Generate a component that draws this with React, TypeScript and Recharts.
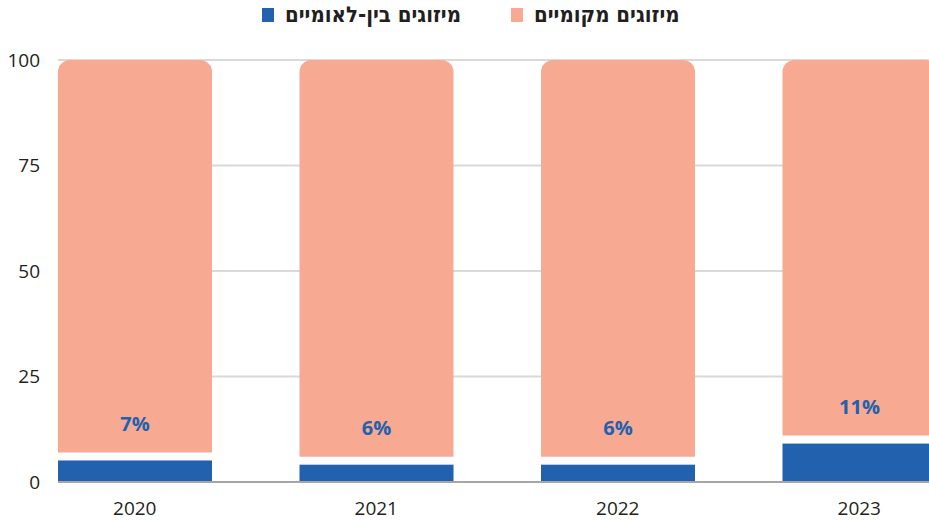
import React from 'react';
import { BarChart, Bar, XAxis, YAxis, CartesianGrid, LabelList } from 'recharts';

const years = ['2020', '2021', '2022', '2023'];
const international = [7, 6, 6, 11];
const local = [93, 94, 94, 89];
const yTicks = [0, 25, 50, 75, 100];

const BLUE = '#2161ae';
const SALMON = '#f7a992';

const data = years.map((year, i) => ({
  year,
  international: international[i],
  local: local[i],
}));

// blue segment leaves a white gap under the salmon one
const GapBar = (props: any) => {
  const { x, y, width, height, fill } = props;
  const gap = 8;
  if (height <= gap) return null;
  return <rect x={x} y={y + gap} width={width} height={height - gap} fill={fill} />;
};

const PercentLabel = (props: any) => {
  const { x, y, width, value } = props;
  return (
    <text
      x={x + width / 2}
      y={y - 29}
      textAnchor="middle"
      dominantBaseline="central"
      fill={BLUE}
      fontSize={20}
      fontWeight={700}
      fontFamily="'Open Sans', sans-serif"
    >
      {value}%
    </text>
  );
};

const legendItems = [
  { label: 'מיזוגים בין-לאומיים', color: BLUE },
  { label: 'מיזוגים מקומיים', color: SALMON },
];

export default function App() {
  return (
    <div
      style={{
        position: 'absolute',
        left: 0,
        top: 0,
        width: 929,
        height: 522,
        overflow: 'hidden',
        background: '#fff',
      }}
    >
      <div
        style={{
          position: 'absolute',
          top: 2,
          left: 262,
          display: 'flex',
          alignItems: 'center',
          gap: 50,
          fontFamily: "'Liberation Sans Narrow', 'DejaVu Sans Condensed', sans-serif",
          fontWeight: 700,
          fontSize: 22,
          color: '#231f20',
          zIndex: 2,
        }}
      >
        {legendItems.map((item) => (
          <div key={item.label} style={{ display: 'flex', alignItems: 'center', gap: 11 }}>
            <span style={{ width: 12, height: 14, background: item.color, display: 'inline-block' }} />
            <span dir="rtl">{item.label}</span>
          </div>
        ))}
      </div>
      <BarChart
        width={980}
        height={522}
        data={data}
        margin={{ top: 60, right: 0, bottom: 0, left: 0 }}
        barCategoryGap={44}
      >
        <CartesianGrid vertical={false} stroke="#d9d9d9" strokeWidth={2} />
        <XAxis
          dataKey="year"
          height={40}
          padding={{ left: -44, right: 0 }}
          tickLine={false}
          tickSize={0}
          tickMargin={20}
          axisLine={{ stroke: '#a6a6a6', strokeWidth: 2 }}
          tick={{ fill: '#231f20', fontSize: 19, fontFamily: "'Open Sans', sans-serif" }}
        />
        <YAxis
          width={58}
          domain={[0, 100]}
          ticks={yTicks}
          axisLine={false}
          tickLine={false}
          tickSize={0}
          tickMargin={18}
          tick={{ fill: '#231f20', fontSize: 19, fontFamily: "'Open Sans', sans-serif" }}
        />
        <Bar
          dataKey="international"
          stackId="a"
          fill={BLUE}
          shape={GapBar}
          isAnimationActive={false}
        >
          <LabelList dataKey="international" content={PercentLabel} />
        </Bar>
        <Bar
          dataKey="local"
          stackId="a"
          fill={SALMON}
          radius={[12, 12, 0, 0]}
          isAnimationActive={false}
        />
      </BarChart>
    </div>
  );
}
